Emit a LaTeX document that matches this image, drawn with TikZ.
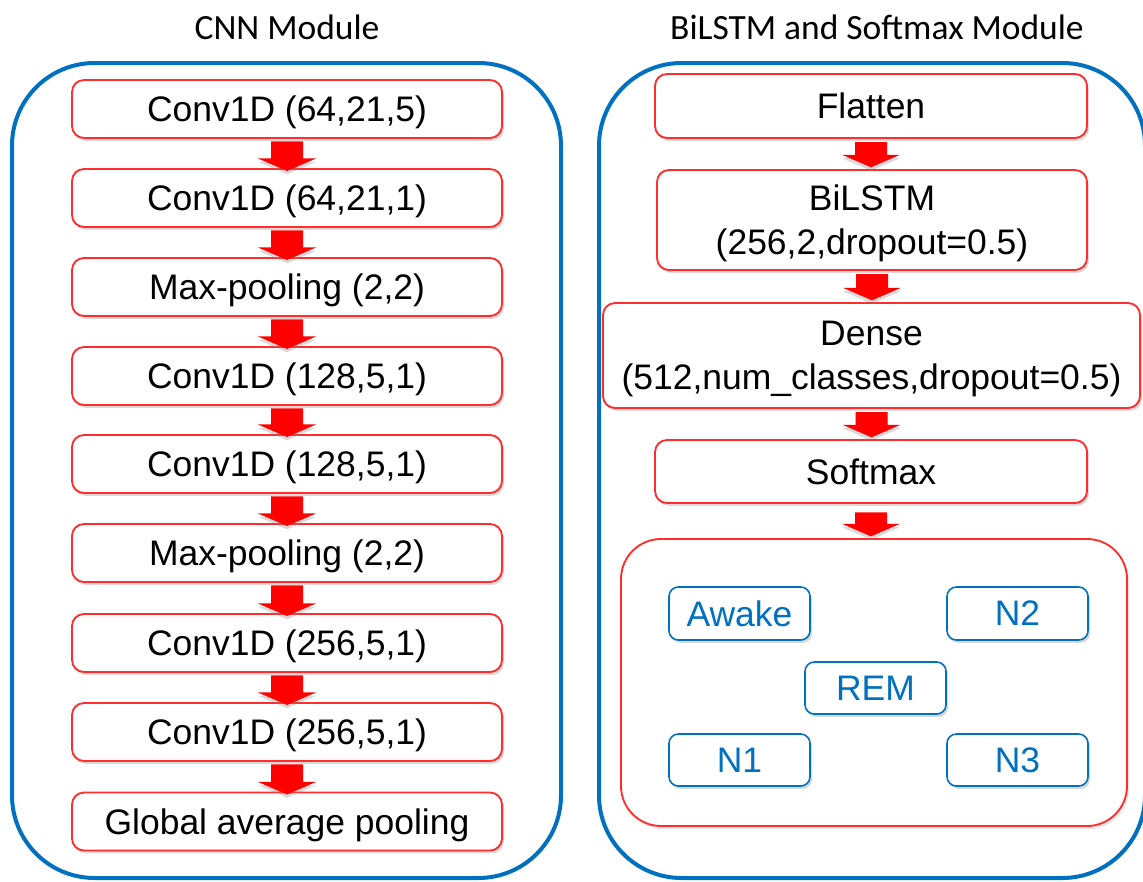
\documentclass[tikz,border=0pt]{standalone}
\usepackage{fontspec}
\setmainfont{Liberation Sans}
\newfontfamily\titlefont{Carlito}
\usetikzlibrary{calc,shadows}
\definecolor{outerblue}{RGB}{0,112,192}
\definecolor{redline}{RGB}{255,45,45}
\definecolor{arrowred}{RGB}{255,0,0}
\tikzset{
  boxw/.style={minimum width={#1*0.75pt}},
  boxh/.style={minimum height={#1*0.75pt}, inner sep=0pt, outer sep=0pt},
  outerbox/.style={draw=outerblue, line width=3pt, rounded corners=62pt},
  layerbox/.style={draw=redline, line width=1.4pt, fill=white, rounded corners=9pt,
    drop shadow={shadow xshift=1.5pt, shadow yshift=-2.2pt, opacity=0.3},
    font=\fontsize{26.6}{33}\selectfont, align=center, text depth=0pt},
  groupbox/.style={draw=redline, line width=1.4pt, fill=white, rounded corners=30pt,
    drop shadow={shadow xshift=1.5pt, shadow yshift=-2.2pt, opacity=0.2}},
  classbox/.style={draw=outerblue, line width=1.2pt, fill=white, rounded corners=7pt,
    drop shadow={shadow xshift=1.5pt, shadow yshift=-2.2pt, opacity=0.3},
    text=outerblue, font=\fontsize{26.6}{33}\selectfont},
  title/.style={font=\titlefont\fontsize{26.6}{32}\selectfont, inner sep=0pt},
  blockarrow/.style={fill=arrowred, draw=none,
    drop shadow={shadow xshift=0pt, shadow yshift=-2.5pt, opacity=0.3},
    to path={let \p1=(\tikztostart), \p2=(\tikztotarget) in
      (\x1-12pt,\y1) -- (\x1+12pt,\y1) -- (\x1+12pt,\y2+9.4pt) -- (\x1+21.75pt,\y2+9.4pt)
      -- (\x1,\y2) -- (\x1-21.75pt,\y2+9.4pt) -- (\x1-12pt,\y2+9.4pt) -- cycle}}
}
\begin{document}
\begin{tikzpicture}[x=0.75pt,y=-0.75pt]
\useasboundingbox (0,0) rectangle (1143,882);

% titles
\node[title] (t1) at (287,27) {CNN Module};
\node[title] (t2) at (877,27) {BiLSTM and Softmax Module};

% outer modules
\node[outerbox, boxw=549, boxh=815] (cnn) at (286.5,470.5) {};
\node[outerbox, boxw=546, boxh=815] (rnn) at (872,470.5) {};

% CNN layers
\node[layerbox, boxw=430, boxh=58] (c1) at (287,109) {Conv1D (64,21,5)};
\node[layerbox, boxw=430, boxh=58] (c2) at (287,198) {Conv1D (64,21,1)};
\node[layerbox, boxw=430, boxh=58] (c3) at (287,287) {Max-pooling (2,2)};
\node[layerbox, boxw=430, boxh=58] (c4) at (287,376) {Conv1D (128,5,1)};
\node[layerbox, boxw=430, boxh=58] (c5) at (287,464) {Conv1D (128,5,1)};
\node[layerbox, boxw=430, boxh=58] (c6) at (287,553) {Max-pooling (2,2)};
\node[layerbox, boxw=430, boxh=58] (c7) at (287,643) {Conv1D (256,5,1)};
\node[layerbox, boxw=430, boxh=58] (c8) at (287,732) {Conv1D (256,5,1)};
\node[layerbox, boxw=430, boxh=58] (c9) at (287,821.5) {Global average pooling};

% right module
\node[layerbox, boxw=432, boxh=64] (r1) at (871,106) {Flatten};
\node[layerbox, boxw=430, boxh=100] (r2) at (872,220) {BiLSTM\\(256,2,dropout=0.5)};
\node[layerbox, boxw=537, boxh=105] (r3) at (871.5,355.5) {Dense\\(512,num\_classes,dropout=0.5)};
\node[layerbox, boxw=432, boxh=63] (r4) at (871,471.5) {Softmax};
\node[groupbox, boxw=506, boxh=287] (r5) at (874,682.5) {};

\node[classbox, boxw=141, boxh=53] (awake) at (739.5,613.5) {Awake};
\node[classbox, boxw=141, boxh=53] (n2) at (1017.5,613.5) {N2};
\node[classbox, boxw=141, boxh=52] (rem) at (875.5,688) {REM};
\node[classbox, boxw=141, boxh=52] (n1) at (739.5,760) {N1};
\node[classbox, boxw=141, boxh=52] (n3) at (1017.5,760) {N3};

% arrows
\foreach \a/\b in {c1/c2,c2/c3,c3/c4,c4/c5,c5/c6,c6/c7,c7/c8,c8/c9}{
  \path[blockarrow] ([yshift=-2.5pt]\a.south) to ([yshift=-1.5pt]\b.north);
}
\foreach \a/\b in {r1/r2,r2/r3,r3/r4}{
  \path[blockarrow] ([yshift=-3pt]\a.south) to ([yshift=2pt]\b.north);
}
\path[blockarrow] ([yshift=-7pt]r4.south) to ([yshift=2pt]r5.north);
\end{tikzpicture}
\end{document}
